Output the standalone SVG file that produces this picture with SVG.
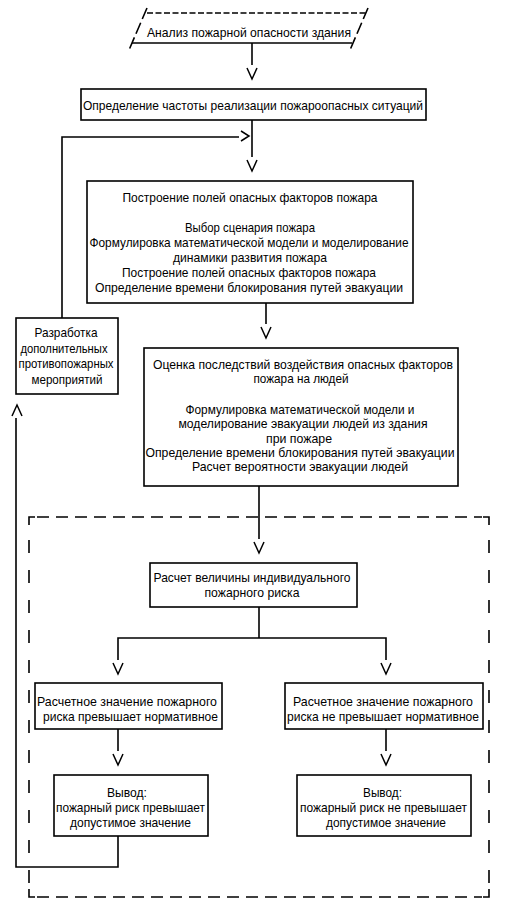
<svg xmlns="http://www.w3.org/2000/svg" xmlns:xlink="http://www.w3.org/1999/xlink" width="508" height="916" viewBox="0 0 508 916">
<style>
.box{fill:#fff;stroke:#000;stroke-width:1.6}
.ln{fill:none;stroke:#000;stroke-width:1.6}
.ah{fill:none;stroke:#000;stroke-width:1.5}
.dsh{fill:none;stroke:#000;stroke-width:1.6;stroke-dasharray:12 7}
.dsv{fill:none;stroke:#000;stroke-width:1.6;stroke-dasharray:13 17}
text{font-family:"Liberation Sans",Arial,sans-serif;font-size:13.5px;fill:#000;text-anchor:middle}
</style>
<defs>
<path id="v" class="ah" d="M-5,0 L0,11 L5,0"/>
<path id="up" class="ah" d="M-5,11 L0,0 L5,11"/>
<path id="rt" class="ah" d="M-8,-5 L0,0 L-8,5"/>
</defs>
<rect width="508" height="916" fill="#fff"/>

<g id="connectors">
<path class="ln" d="M252,43 V65"/>
<path class="ln" d="M252,120 V157"/>
<path class="ln" d="M62,318 V137 H239"/>
<path class="ln" d="M266,303 V324"/>
<path class="ln" d="M259,486 V539"/>
<path class="ln" d="M259,607 V638"/>
<path class="ln" d="M118,660 V638 H386 V660"/>
<path class="ln" d="M118,729 V751"/>
<path class="ln" d="M386,729 V751"/>
<path class="ln" d="M118,836 V867 H16 V418"/>
<use xlink:href="#v" x="252" y="68"/>
<use xlink:href="#v" x="252" y="160"/>
<use xlink:href="#rt" x="249" y="136"/>
<use xlink:href="#v" x="266" y="327"/>
<use xlink:href="#v" x="259" y="542"/>
<use xlink:href="#v" x="118" y="663"/>
<use xlink:href="#v" x="386" y="663"/>
<use xlink:href="#v" x="118" y="754"/>
<use xlink:href="#v" x="386" y="754"/>
<use xlink:href="#up" x="17" y="405"/>
</g>

<g id="frame">
<path class="dsh" d="M37,517 H482"/>
<path class="dsh" d="M37,897 H482"/>
<path class="dsv" d="M29,540 V885"/>
<path class="dsv" d="M489,540 V885"/>
<path class="ln" d="M29,525 V517 H35"/>
<path class="ln" d="M483,517 H489 V525"/>
<path class="ln" d="M29,889 V897 H35"/>
<path class="ln" d="M483,897 H489 V889"/>
</g>

<g id="n1">
<path class="ln" d="M147,13 H366" style="stroke-dasharray:6 2.5"/>
<path class="ln" d="M147,8 L129,50" style="stroke-dasharray:12 4"/>
<path class="ln" d="M368,8 L350,50" style="stroke-dasharray:12 4"/>
<path class="ln" d="M132,43 H352"/>
<text x="249" y="36.5" textLength="204" lengthAdjust="spacingAndGlyphs">Анализ пожарной опасности здания</text>
</g>

<g id="n2">
<rect class="box" x="81" y="89" width="345" height="31"/>
<text x="253" y="110" textLength="340" lengthAdjust="spacingAndGlyphs">Определение частоты реализации пожароопасных ситуаций</text>
</g>

<g id="n3">
<rect class="box" x="87" y="181" width="326" height="122"/>
<text x="250" y="202" textLength="255" lengthAdjust="spacingAndGlyphs">Построение полей опасных факторов пожара</text>
<text x="250" y="232" textLength="130" lengthAdjust="spacingAndGlyphs">Выбор сценария пожара</text>
<text x="249" y="247" textLength="319" lengthAdjust="spacingAndGlyphs">Формулировка математической модели и моделирование</text>
<text x="250" y="262" textLength="154" lengthAdjust="spacingAndGlyphs">динамики развития пожара</text>
<text x="249" y="277" textLength="254" lengthAdjust="spacingAndGlyphs">Построение полей опасных факторов пожара</text>
<text x="249" y="292" textLength="308" lengthAdjust="spacingAndGlyphs">Определение времени блокирования путей эвакуации</text>
</g>

<g id="n4">
<rect class="box" x="16" y="318" width="102" height="76"/>
<text x="66" y="337" textLength="63" lengthAdjust="spacingAndGlyphs">Разработка</text>
<text x="64" y="352.5" textLength="87" lengthAdjust="spacingAndGlyphs">дополнительных</text>
<text x="66" y="368" textLength="95" lengthAdjust="spacingAndGlyphs">противопожарных</text>
<text x="67" y="383.5" textLength="71" lengthAdjust="spacingAndGlyphs">мероприятий</text>
</g>

<g id="n5">
<rect class="box" x="144" y="348" width="314" height="138"/>
<text x="303" y="369" textLength="300" lengthAdjust="spacingAndGlyphs">Оценка последствий воздействия опасных факторов</text>
<text x="301" y="383" textLength="95" lengthAdjust="spacingAndGlyphs">пожара на людей</text>
<text x="300" y="414" textLength="229" lengthAdjust="spacingAndGlyphs">Формулировка математической модели и</text>
<text x="303" y="428" textLength="249" lengthAdjust="spacingAndGlyphs">моделирование эвакуации людей из здания</text>
<text x="299" y="443" textLength="66" lengthAdjust="spacingAndGlyphs">при пожаре</text>
<text x="300" y="457" textLength="309" lengthAdjust="spacingAndGlyphs">Определение времени блокирования путей эвакуации</text>
<text x="300" y="471" textLength="216" lengthAdjust="spacingAndGlyphs">Расчет вероятности эвакуации людей</text>
</g>

<g id="n6">
<rect class="box" x="150" y="563" width="207" height="44"/>
<text x="252" y="582" textLength="197" lengthAdjust="spacingAndGlyphs">Расчет величины индивидуального</text>
<text x="252" y="597" textLength="95" lengthAdjust="spacingAndGlyphs">пожарного риска</text>
</g>

<g id="n7">
<rect class="box" x="35" y="683" width="187" height="46"/>
<text x="127" y="706" textLength="180" lengthAdjust="spacingAndGlyphs">Расчетное значение пожарного</text>
<text x="130.5" y="721" textLength="175" lengthAdjust="spacingAndGlyphs">риска превышает нормативное</text>
</g>

<g id="n8">
<rect class="box" x="285" y="683" width="198" height="46"/>
<text x="383" y="706" textLength="180" lengthAdjust="spacingAndGlyphs">Расчетное значение пожарного</text>
<text x="383" y="721" textLength="192" lengthAdjust="spacingAndGlyphs">риска не превышает нормативное</text>
</g>

<g id="n9">
<rect class="box" x="54" y="775" width="154" height="61"/>
<text x="127" y="797" textLength="40" lengthAdjust="spacingAndGlyphs">Вывод:</text>
<text x="130.5" y="812" textLength="149" lengthAdjust="spacingAndGlyphs">пожарный риск превышает</text>
<text x="130.5" y="827" textLength="121" lengthAdjust="spacingAndGlyphs">допустимое значение</text>
</g>

<g id="n10">
<rect class="box" x="297" y="775" width="174" height="61"/>
<text x="382.5" y="797" textLength="39" lengthAdjust="spacingAndGlyphs">Вывод:</text>
<text x="383.5" y="812" textLength="167" lengthAdjust="spacingAndGlyphs">пожарный риск не превышает</text>
<text x="386" y="827" textLength="120" lengthAdjust="spacingAndGlyphs">допустимое значение</text>
</g>
</svg>
